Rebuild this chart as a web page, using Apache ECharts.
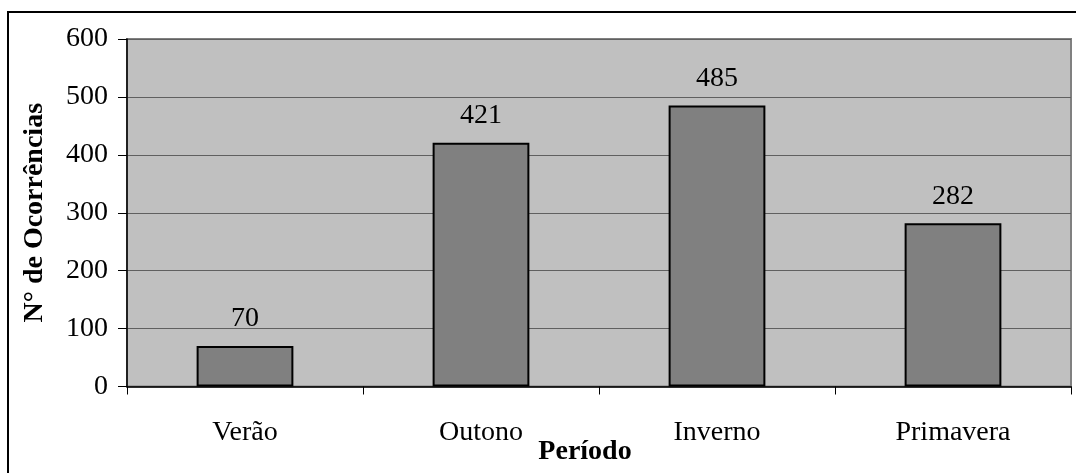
<!DOCTYPE html>
<html>
<head>
<meta charset="utf-8">
<script src="https://cdn.jsdelivr.net/npm/echarts@6/dist/echarts.min.js"></script>
<style>
  html, body { margin: 0; padding: 0; background: #ffffff; }
  #chart { width: 1076px; height: 473px; }
</style>
</head>
<body>
<div id="chart"></div>
<script>
// Ocorrências por estação do ano
const categories = ['Verão', 'Outono', 'Inverno', 'Primavera'];
const occurrences = [70, 421, 485, 282];
const yTicks = [0, 100, 200, 300, 400, 500, 600];

const serif = '"Liberation Serif", "Times New Roman", serif';

const chart = echarts.init(document.getElementById('chart'), null, { renderer: 'canvas' });

chart.setOption({
  animation: false,
  backgroundColor: '#ffffff',
  grid: {
    left: 127, top: 39, right: 5, bottom: 86.5,
    containLabel: false,
    outerBoundsMode: 'none',
    show: true,
    backgroundColor: '#c0c0c0',
    borderColor: '#808080',
    borderWidth: 2
  },
  graphic: [{
    type: 'rect',
    shape: { x: 8, y: 12, width: 2000, height: 2000 },
    style: { fill: 'none', stroke: '#000000', lineWidth: 2 },
    silent: true,
    z: 100
  }],
  xAxis: {
    type: 'category',
    data: categories,
    boundaryGap: true,
    name: 'Período',
    nameLocation: 'middle',
    nameGap: 51,
    nameMoveOverlap: false,
    nameTextStyle: {
      fontFamily: serif, fontSize: 28, fontWeight: 'bold', color: '#000000',
      padding: [0, 28, 0, 0]
    },
    axisLine: { show: true, lineStyle: { color: '#000000', width: 1.5 } },
    axisTick: { show: true, length: 8, lineStyle: { color: '#000000', width: 1 } },
    axisLabel: { fontFamily: serif, fontSize: 28, color: '#000000', margin: 32 },
    splitLine: { show: false }
  },
  yAxis: {
    type: 'value',
    min: yTicks[0],
    max: yTicks[yTicks.length - 1],
    interval: 100,
    name: 'N° de Ocorrências',
    nameLocation: 'middle',
    nameGap: 78,
    nameMoveOverlap: false,
    nameTextStyle: { fontFamily: serif, fontSize: 28, fontWeight: 'bold', color: '#000000' },
    axisLine: { show: true, lineStyle: { color: '#000000', width: 1.5 } },
    axisTick: { show: true, length: 9, inside: false, lineStyle: { color: '#000000', width: 1 } },
    axisLabel: { fontFamily: serif, fontSize: 28, color: '#000000', margin: 19 },
    splitLine: { show: true, lineStyle: { color: '#606060', width: 1 } }
  },
  series: [{
    type: 'bar',
    data: occurrences,
    barWidth: '41%',
    itemStyle: { color: '#808080', borderColor: '#000000', borderWidth: 2 },
    label: {
      show: true,
      position: 'top',
      distance: 13,
      fontFamily: serif,
      fontSize: 28,
      color: '#000000'
    }
  }]
});
</script>
</body>
</html>
